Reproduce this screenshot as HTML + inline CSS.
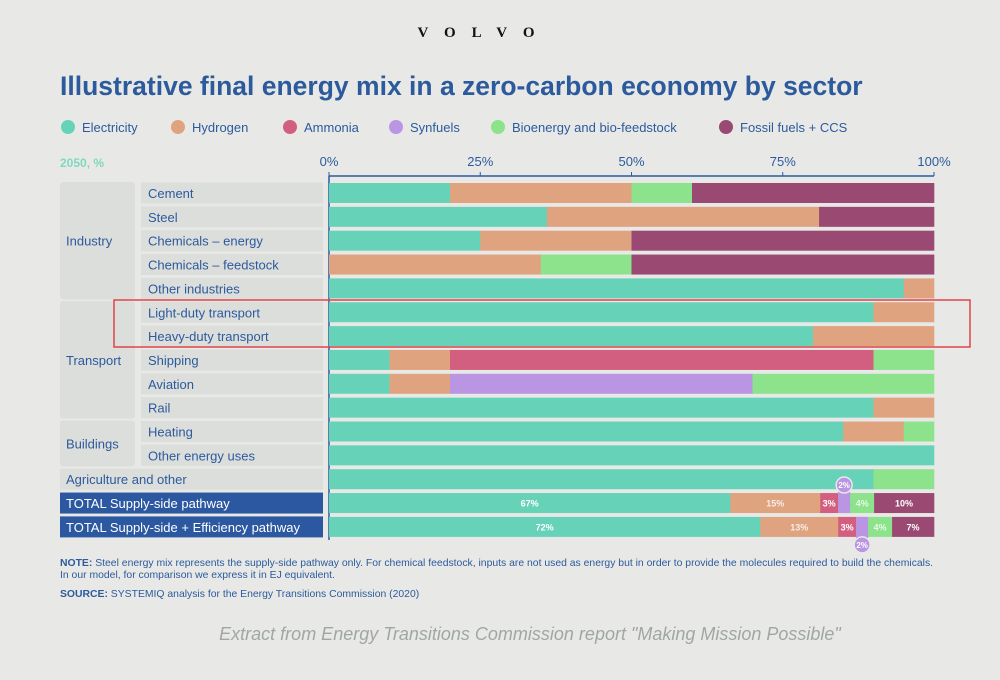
<!DOCTYPE html>
<html><head><meta charset="utf-8"><style>
body{margin:0;background:#e8e9e6;font-family:"Liberation Sans",sans-serif;}
svg{display:block}
</style></head><body>
<svg id="c" width="1000" height="680" viewBox="0 0 1000 680" xmlns="http://www.w3.org/2000/svg">
<rect width="1000" height="680" fill="#e8e9e6"/>
<text x="484" y="37" text-anchor="middle" font-family="Liberation Serif" font-weight="bold" font-size="15" letter-spacing="16" fill="#111">VOLVO</text>
<text x="60" y="95" font-size="26.5" font-weight="bold" fill="#2c5a9d">Illustrative final energy mix in a zero-carbon economy by sector</text>
<g id="legend"></g>
<text x="60" y="167" font-size="12" font-weight="bold" fill="#7fd8bf">2050, %</text>
<g id="axis"></g>
<g id="labels"></g>
<g id="bars"></g>
<rect x="114" y="300" width="856" height="47" fill="none" stroke="#e0444a" stroke-width="1.5"/>
<text x="60" y="566" font-size="10.4" fill="#2c5a9d"><tspan font-weight="bold">NOTE:</tspan> Steel energy mix represents the supply-side pathway only. For chemical feedstock, inputs are not used as energy but in order to provide the molecules required to build the chemicals.</text>
<text x="60" y="578" font-size="10.4" fill="#2c5a9d">In our model, for comparison we express it in EJ equivalent.</text>
<text x="60" y="597" font-size="10.4" fill="#2c5a9d"><tspan font-weight="bold">SOURCE:</tspan> SYSTEMIQ analysis for the Energy Transitions Commission (2020)</text>
<text x="530" y="640" text-anchor="middle" font-size="18" font-style="italic" fill="#a0a6a6">Extract from Energy Transitions Commission report "Making Mission Possible"</text>
</svg>
<script>
const series = ["Electricity","Hydrogen","Ammonia","Synfuels","Bioenergy and bio-feedstock","Fossil fuels + CCS"];
const colors = ["#66d3b9","#dfa37f","#d35f80","#b995e3","#8ce38c","#9a4a72"];
const categories = ["Cement","Steel","Chemicals – energy","Chemicals – feedstock","Other industries","Light-duty transport","Heavy-duty transport","Shipping","Aviation","Rail","Heating","Other energy uses","Agriculture and other","TOTAL Supply-side pathway","TOTAL Supply-side + Efficiency pathway"];
const electricity = [20,36,25,0,95,90,80,10,10,90,85,100,90,67,72];
const hydrogen    = [30,45,25,35,5,10,20,10,10,10,10,0,0,15,13];
const ammonia     = [0,0,0,0,0,0,0,70,0,0,0,0,0,3,3];
const synfuels    = [0,0,0,0,0,0,0,0,50,0,0,0,0,2,2];
const bioenergy   = [10,0,0,15,0,0,0,10,30,0,5,0,10,4,4];
const fossil      = [40,19,50,50,0,0,0,0,0,0,0,0,0,10,7];
const ticks = [0,25,50,75,100];
const groups = [["Industry",0,4],["Transport",5,9],["Buildings",10,11]];
const NS="http://www.w3.org/2000/svg";
const X0=329,X1=934;
const xs=v=>X0+(X1-X0)*v/100;
const rowY=i=>193+i*23.85;
function mk(p,t,a){const e=document.createElementNS(NS,t);for(const k in a)e.setAttribute(k,a[k]);p.appendChild(e);return e;}
const lg=document.getElementById('legend');
const lx=[60,170,282,388,490,718];
series.forEach((s,i)=>{
  const c=mk(lg,'circle',{cx:lx[i]+8,cy:127,r:7,fill:colors[i]});
  
  
  const t=mk(lg,'text',{x:lx[i]+22,y:132,'font-size':13,fill:'#2c5a9d'});
  
  
  t.textContent=s;
});
const ax=document.getElementById('axis');
mk(ax,'line',{x1:X0,y1:176,x2:X1,y2:176,stroke:'#2c5a9d','stroke-width':1.5});
mk(ax,'line',{x1:X0,y1:176,x2:X0,y2:540,stroke:'#2c5a9d','stroke-width':1.5});
ticks.forEach(v=>{
  mk(ax,'line',{x1:xs(v),y1:172,x2:xs(v),y2:176,stroke:'#2c5a9d'});
  const t=mk(ax,'text',{x:xs(v),y:166,'text-anchor':'middle','font-size':13,fill:'#2c5a9d'});
  
  
  t.textContent=v+'%';
});
const lb=document.getElementById('labels');
groups.forEach(g=>{
  const y0=rowY(g[1])-11,y1=rowY(g[2])+11;
  const r=mk(lb,'rect',{x:60,y:y0,width:75,height:y1-y0,fill:'#dcdedb',rx:3});
  
  
  const t=mk(lb,'text',{x:66,y:(y0+y1)/2+5,'font-size':13,fill:'#2c5a9d'});
  
  
  t.textContent=g[0];
});
categories.forEach((c,i)=>{
  const y=rowY(i);
  const full=i>=12, tot=i>=13;
  const r=mk(lb,'rect',{x:full?60:141,y:y-10.5,width:full?263:182,height:21,fill:tot?'#2b58a0':'#dcdedb'});
  
  
  const t=mk(lb,'text',{x:full?66:148,y:y+5,'font-size':13,fill:tot?'#fff':'#2c5a9d'});
  
  
  t.textContent=c;
});
const bg=document.getElementById('bars');
const data=[electricity,hydrogen,ammonia,synfuels,bioenergy,fossil];
categories.forEach((c,i)=>{
  const y=rowY(i);
  let sum=0;data.forEach(a=>sum+=a[i]);
  const k=100/sum;let acc=0;
  data.forEach((a,j)=>{
    const v=a[i];if(!v)return;
    const x=xs(acc*k),w=xs((acc+v)*k)-x;
    const r=mk(bg,'rect',{x:x,y:y-10,width:w+0.3,height:20,fill:colors[j]});
    
    
    if(i>=13){
      if(j===3){
        const cy=i===13?y-18:y+18;
        mk(bg,'rect',{x:x,y:Math.min(cy,y-10),width:w,height:Math.abs(cy-(i===13?y+10:y-10)),fill:colors[j]});
        mk(bg,'circle',{cx:x+w/2,cy:cy,r:8,fill:colors[j],stroke:'#e8e9e6','stroke-width':1.5});
        const t=mk(bg,'text',{x:x+w/2,y:cy+3,'text-anchor':'middle','font-size':8,'font-weight':'bold',fill:'#fff'});
        
        
        t.textContent=v+'%';
      } else {
        const t=mk(bg,'text',{x:x+w/2,y:y+3.5,'text-anchor':'middle','font-size':9,'font-weight':'bold',fill:'#fff','fill-opacity':j===0||j===5||j===2?1:0.8});
        
        
        t.textContent=v+'%';
      }
    }
    acc+=v;
  });
});
</script>
</body></html>
